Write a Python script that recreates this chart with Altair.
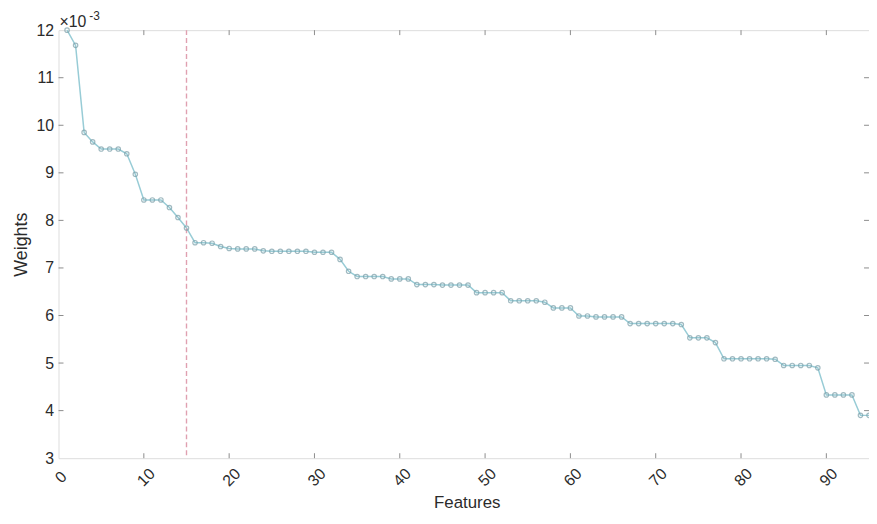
import altair as alt
import pandas as pd

features = list(range(1, 96))
weights = [
    12.00, 11.68, 9.85, 9.65, 9.50, 9.50, 9.50, 9.40, 8.97, 8.43,
    8.43, 8.43, 8.27, 8.06, 7.84, 7.53, 7.53, 7.52, 7.45, 7.41,
    7.40, 7.40, 7.40, 7.36, 7.35, 7.35, 7.35, 7.35, 7.35, 7.33,
    7.33, 7.33, 7.18, 6.93, 6.82, 6.82, 6.82, 6.82, 6.77, 6.77,
    6.77, 6.65, 6.65, 6.65, 6.64, 6.64, 6.64, 6.64, 6.48, 6.48,
    6.48, 6.48, 6.31, 6.31, 6.31, 6.31, 6.28, 6.16, 6.16, 6.16,
    5.99, 5.99, 5.97, 5.97, 5.97, 5.97, 5.83, 5.83, 5.83, 5.83,
    5.83, 5.83, 5.81, 5.53, 5.53, 5.53, 5.43, 5.09, 5.09, 5.09,
    5.09, 5.09, 5.09, 5.08, 4.95, 4.95, 4.95, 4.95, 4.90, 4.33,
    4.33, 4.33, 4.33, 3.90, 3.90,
]
threshold = [15]
x_ticks = [0, 10, 20, 30, 40, 50, 60, 70, 80, 90]
y_ticks = [3, 4, 5, 6, 7, 8, 9, 10, 11, 12]
x_inner = [10, 20, 30, 40, 50, 60, 70, 80, 90]
y_inner = [4, 5, 6, 7, 8, 9, 10, 11]

W, H = 818, 432
FONT = "Liberation Sans"
AX = "#8c8c8c"
TXT = "#2b2b2b"

df = pd.DataFrame({"Features": features, "Weights": weights})
xs = alt.Scale(domain=[0, 95], nice=False, zero=False)
ys = alt.Scale(domain=[3, 12], nice=False, zero=False)

x_enc = alt.X("Features:Q", scale=xs, axis=alt.Axis(
    values=x_ticks, ticks=False, domain=False, grid=False, labelAngle=-45,
    labelAlign="center", labelBaseline="middle", labelPadding=19, labelOffset=2,
    labelFontSize=16, labelColor=TXT, labelFont=FONT,
    title="Features", titleFontSize=17, titleFont=FONT, titleFontWeight="normal",
    titleColor=TXT, titleX=W / 2 + 3, titleY=45, titleBaseline="middle"))
y_enc = alt.Y("Weights:Q", scale=ys, axis=alt.Axis(
    values=y_ticks, ticks=False, domain=False, grid=False, labelPadding=5,
    labelFontSize=16, labelColor=TXT, labelFont=FONT,
    title="Weights", titleFontSize=18, titleFont=FONT, titleFontWeight="normal",
    titleColor=TXT, titleX=-37, titleY=H / 2, titleBaseline="middle"))

line = alt.Chart(df).mark_line(color="#98ccd6", strokeWidth=1.5).encode(x=x_enc, y=y_enc)
pts = alt.Chart(df).mark_point(filled=False, size=20, color="#7a9ea8", strokeWidth=1.2).encode(
    x="Features:Q", y="Weights:Q")

rule = alt.Chart(pd.DataFrame({"t": threshold})).mark_rule(
    color="#e0a0b0", strokeDash=[5, 3], strokeWidth=1.4).encode(x="t:Q")

xi = pd.DataFrame({"v": x_inner})
yi = pd.DataFrame({"v": y_inner})
tk = dict(color=AX, strokeWidth=1)
t_bot = alt.Chart(xi).mark_rule(**tk).encode(x="v:Q", y=alt.value(H - 5), y2=alt.value(H))
t_top = alt.Chart(xi).mark_rule(**tk).encode(x="v:Q", y=alt.value(0), y2=alt.value(5))
t_left = alt.Chart(yi).mark_rule(**tk).encode(y="v:Q", x=alt.value(0), x2=alt.value(5))
t_right = alt.Chart(yi).mark_rule(**tk).encode(y="v:Q", x=alt.value(W - 5), x2=alt.value(W))

exp1 = alt.Chart(pd.DataFrame({"s": ["\u00d710"]})).mark_text(
    align="left", baseline="alphabetic", fontSize=16, font=FONT, color=TXT).encode(
    text="s:N", x=alt.value(1), y=alt.value(-3))
exp2 = alt.Chart(pd.DataFrame({"s": ["-3"]})).mark_text(
    align="left", baseline="alphabetic", fontSize=12, font=FONT, color=TXT).encode(
    text="s:N", x=alt.value(31), y=alt.value(-10))

chart = alt.layer(line, rule, pts, t_bot, t_top, t_left, t_right, exp1, exp2).properties(
    width=W, height=H,
    autosize=alt.AutoSizeParams(type="none"),
    padding={"left": 51, "top": 20, "right": 0, "bottom": 56},
).configure_view(stroke=AX, strokeWidth=1).configure(background="white")

chart.save("out.html", embed_options={"renderer": "svg", "actions": False})
